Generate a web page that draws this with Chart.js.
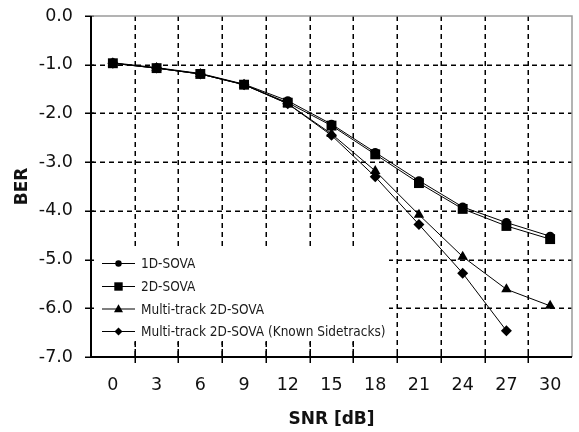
<!DOCTYPE html>
<html>
<head>
<meta charset="utf-8">
<script src="https://cdn.jsdelivr.net/npm/chart.js@4/dist/chart.umd.min.js"></script>
<style>
html,body{margin:0;padding:0;background:#fff;}
#wrap{width:579px;height:432px;position:relative;}
</style>
</head>
<body>
<div id="wrap"><canvas id="c" width="579" height="432"></canvas></div>
<script>
const snrLabels = ['0','3','6','9','12','15','18','21','24','27','30'];
const ber1D   = [-0.96,-1.06,-1.18,-1.40,-1.74,-2.22,-2.80,-3.38,-3.92,-4.24,-4.52];
const ber2D   = [-0.97,-1.07,-1.19,-1.41,-1.78,-2.25,-2.84,-3.43,-3.96,-4.31,-4.58];
const berMT   = [-0.97,-1.07,-1.19,-1.41,-1.80,-2.42,-3.18,-4.08,-4.94,-5.61,-5.95];
const berMTK  = [-0.97,-1.07,-1.19,-1.41,-1.80,-2.45,-3.30,-4.28,-5.28,-6.46,null];
const seriesNames = ['1D-SOVA','2D-SOVA','Multi-track 2D-SOVA','Multi-track 2D-SOVA (Known Sidetracks)'];

const mkDs = (label, data, style, r) => ({
  label, data, borderColor:'#000', backgroundColor:'#000', borderWidth:1,
  pointStyle: style, pointRadius: r, pointHoverRadius: r, pointBorderWidth:0,
  tension:0, spanGaps:false, fill:false
});

function marker(ctx, style, x, y, s){
  ctx.beginPath();
  if (style === 'circle') { ctx.arc(x, y, s*0.85, 0, Math.PI*2); }
  else if (style === 'rect') { ctx.rect(x - s, y - s, 2*s, 2*s); }
  else if (style === 'triangle') { ctx.moveTo(x, y - s*1.1); ctx.lineTo(x + s*1.05, y + s*0.75); ctx.lineTo(x - s*1.05, y + s*0.75); ctx.closePath(); }
  else { ctx.moveTo(x, y - s); ctx.lineTo(x + s, y); ctx.lineTo(x, y + s); ctx.lineTo(x - s, y); ctx.closePath(); }
  ctx.fill();
}

const framePlugin = {
  id:'frame',
  beforeDatasetsDraw(chart){
    const ctx = chart.ctx, ca = chart.chartArea;
    const xs = chart.scales.x, ys = chart.scales.y;
    ctx.save();
    ctx.strokeStyle = '#000'; ctx.lineWidth = 1.5; ctx.setLineDash([5,4]);
    for (let v = -6; v <= -1; v++) {
      const y = Math.round(ys.getPixelForValue(v)) + 0.25;
      ctx.beginPath(); ctx.moveTo(ca.left, y); ctx.lineTo(ca.right, y); ctx.stroke();
    }
    const n = snrLabels.length;
    const bounds = [];
    for (let i = 0; i < n - 1; i++) {
      bounds.push(Math.round((xs.getPixelForTick(i) + xs.getPixelForTick(i+1)) / 2) + 0.25);
    }
    bounds.forEach(x => { ctx.beginPath(); ctx.moveTo(x, ca.top); ctx.lineTo(x, ca.bottom); ctx.stroke(); });
    ctx.setLineDash([]);
    // legend background box
    ctx.fillStyle = '#fff';
    ctx.fillRect(ca.left + 1, 250, 297, 91);
    ctx.setLineDash([5,4]);
    bounds.forEach(x => { if (x < ca.left + 300) { ctx.beginPath(); ctx.moveTo(x, 342); ctx.lineTo(x, ca.bottom); ctx.stroke(); } });
    ctx.setLineDash([]);
    // tick marks
    ctx.lineWidth = 1.5;
    bounds.forEach(x => { ctx.beginPath(); ctx.moveTo(x, ca.bottom - 3); ctx.lineTo(x, ca.bottom + 6); ctx.stroke(); });
    for (let v = -7; v <= 0; v++) {
      const y = Math.round(ys.getPixelForValue(v)) + 0.25;
      ctx.beginPath(); ctx.moveTo(ca.left - 6, y); ctx.lineTo(ca.left + 3, y); ctx.stroke();
    }
    ctx.strokeStyle = '#9a9a9a'; ctx.lineWidth = 1.5;
    ctx.beginPath();
    ctx.moveTo(ca.left, ca.top); ctx.lineTo(ca.right, ca.top); ctx.lineTo(ca.right, ca.bottom);
    ctx.stroke();
    ctx.strokeStyle = '#000'; ctx.lineWidth = 2;
    ctx.beginPath();
    ctx.moveTo(ca.left, ca.top); ctx.lineTo(ca.left, ca.bottom); ctx.lineTo(ca.right, ca.bottom);
    ctx.stroke();
    ctx.restore();
  },
  afterDatasetsDraw(chart){
    const ctx = chart.ctx;
    const ca = chart.chartArea;
    const x0 = ca.left + 11, x1 = ca.left + 44, xm = (x0 + x1) / 2, xt = ca.left + 50;
    const rows = [263.5, 286.5, 309, 331.5];
    const sizes = [3.8, 4.2, 4.3, 4.0];
    ctx.save();
    ctx.font = '13.5px "DejaVu Sans Condensed", "DejaVu Sans"';
    ctx.textBaseline = 'middle';
    ctx.textAlign = 'left';
    chart.data.datasets.forEach((ds, i) => {
      const y = rows[i];
      ctx.strokeStyle = '#000'; ctx.lineWidth = 1.2;
      ctx.beginPath(); ctx.moveTo(x0, y); ctx.lineTo(x1, y); ctx.stroke();
      ctx.fillStyle = '#000';
      marker(ctx, ds.pointStyle, xm, y, sizes[i]);
      ctx.fillStyle = '#1a1a1a';
      ctx.fillText(ds.label, xt, y + 1);
    });
    ctx.restore();
  }
};

new Chart(document.getElementById('c'), {
  type:'line',
  data:{
    labels: snrLabels,
    datasets:[
      mkDs(seriesNames[0], ber1D, 'circle', 4.5),
      mkDs(seriesNames[1], ber2D, 'rect', 7),
      mkDs(seriesNames[2], berMT, 'triangle', 6),
      mkDs(seriesNames[3], berMTK, 'rectRot', 5.5)
    ]
  },
  options:{
    responsive:false, animation:false,
    layout:{padding:{top:16,right:4,bottom:0,left:0}},
    plugins:{legend:{display:false}, tooltip:{enabled:false}},
    scales:{
      x:{
        type:'category', offset:true,
        grid:{display:false, tickLength:6},
        border:{display:false},
        ticks:{color:'#111', font:{family:'DejaVu Sans', size:17.5}, padding:12, maxRotation:0},
        title:{display:true, text:'SNR [dB]', color:'#111',
          font:{family:'DejaVu Sans', size:17, weight:'bold'}, padding:{top:0,bottom:2}},
        afterFit(s){ s.height = 75; }
      },
      y:{
        min:-7, max:0,
        grid:{display:false, tickLength:18},
        border:{display:false},
        ticks:{stepSize:1, color:'#111', font:{family:'DejaVu Sans', size:17.5}, padding:0,
          callback:(v)=> Number(v).toFixed(1)},
        title:{display:true, text:'BER', color:'#111',
          font:{family:'DejaVu Sans', size:17, weight:'bold'}, padding:{top:12,bottom:0}},
        afterFit(s){ s.width = 91; }
      }
    }
  },
  plugins:[framePlugin]
});
</script>
</body>
</html>
